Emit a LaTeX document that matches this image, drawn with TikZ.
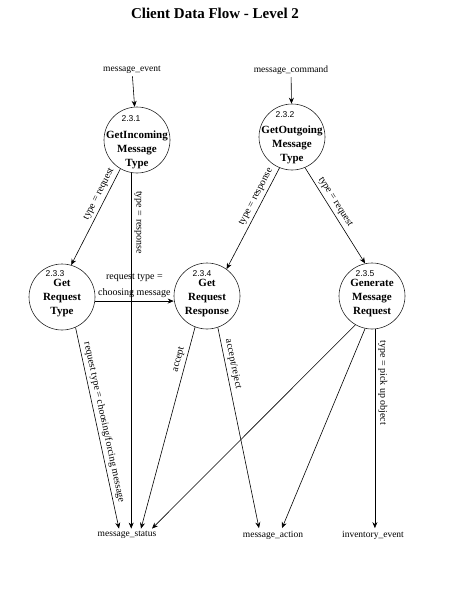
\documentclass[tikz,border=0pt]{standalone}
\usepackage{fontspec}
\setmainfont{Liberation Serif}
\newfontfamily\numfont{Liberation Sans}
\usetikzlibrary{arrows.meta}
\begin{document}
\begin{tikzpicture}[x=1pt,y=-1pt,
  circ/.style={draw=black!85, line width=0.6pt, circle, minimum size=66pt, inner sep=0pt},
  num/.style={font=\numfont\fontsize{8.5}{10}\selectfont, inner sep=0pt},
  ptext/.style={font=\bfseries\fontsize{11}{14}\selectfont, align=center, inner sep=0pt},
  lbl/.style={font=\fontsize{10}{11}\selectfont, inner sep=3pt},
  ext/.style={font=\fontsize{9.5}{11}\selectfont, inner sep=2.5pt},
  ttl/.style={font=\bfseries\fontsize{15}{17}\selectfont, inner sep=0pt},
  flow/.style={-{Stealth[length=6pt,width=5pt]}, line width=0.6pt}]
\useasboundingbox (0,0) rectangle (450,600);
\node[ttl] (title) at (215,13) {Client Data Flow - Level 2};

\node[ext] (me) at (132,70) {message\_event};
\node[ext] (mc) at (291,70) {message\_command};
\node[ext] (ms) at (127,535) {message\_status};
\node[ext] (ma) at (273,535) {message\_action};
\node[ext] (inv) at (373,535) {inventory\_event};

\node[circ] (c1) at (137,140) {};
\node[num] (c1n) at (131,119) {2.3.1};
\node[ptext] (c1t) at (137,150) {GetIncoming\\Message\\Type};

\node[circ] (c2) at (292,137) {};
\node[num] (c2n) at (285,115) {2.3.2};
\node[ptext] (c2t) at (292,145) {GetOutgoing\\Message\\Type};

\node[circ] (c3) at (62,297) {};
\node[num] (c3n) at (55,274) {2.3.3};
\node[ptext] (c3t) at (62,298) {Get\\Request\\Type};

\node[circ] (c4) at (207,296) {};
\node[num] (c4n) at (202,274) {2.3.4};
\node[ptext] (c4t) at (207,298) {Get\\Request\\Response};

\node[circ] (c5) at (372,296) {};
\node[num] (c5n) at (365,274) {2.3.5};
\node[ptext] (c5t) at (372,298) {Generate\\Message\\Request};

\draw[flow] (me) -- (c1);
\draw[flow] (mc) -- (c2);
\draw[flow] (c1.240) -- node[lbl, sloped, above, pos=.3] {type = request} (c3.74);
\draw[flow] (c1.260) -- node[lbl, sloped, above, pos=.14] {type = response} (c1.260 |- ms.north);
\draw[flow] (c3.353) -- node[lbl, above, align=center, inner sep=3pt] {request type =\\[5pt]choosing message} (c3.353 -| c4.west);
\draw[flow] (c2.248) -- node[lbl, sloped, above, pos=.32] {type = response} (c4.54);
\draw[flow] (c2.293) -- node[lbl, sloped, above, pos=.4] {type = request} (c5.102);
\draw[flow] (c3.294) -- node[lbl, sloped, above, pos=.48] {request type = choosing/forcing message} ([xshift=-8pt]ms.north);
\draw[flow] (c4.249) -- node[lbl, sloped, above, pos=.17] {accept} ([xshift=14pt]ms.north);
\draw[flow] (c4.289) -- node[lbl, sloped, above, pos=.19] {accept/reject} ([xshift=-14pt]ma.north);
\draw[flow] (c5.240) -- ([xshift=25pt]ms.north);
\draw[flow] (c5.258) -- ([xshift=9pt]ma.north);
\draw[flow] (c5.275) -- node[lbl, sloped, above, pos=.27] {type = pick up object} (c5.275 |- inv.north);
\end{tikzpicture}
\end{document}
